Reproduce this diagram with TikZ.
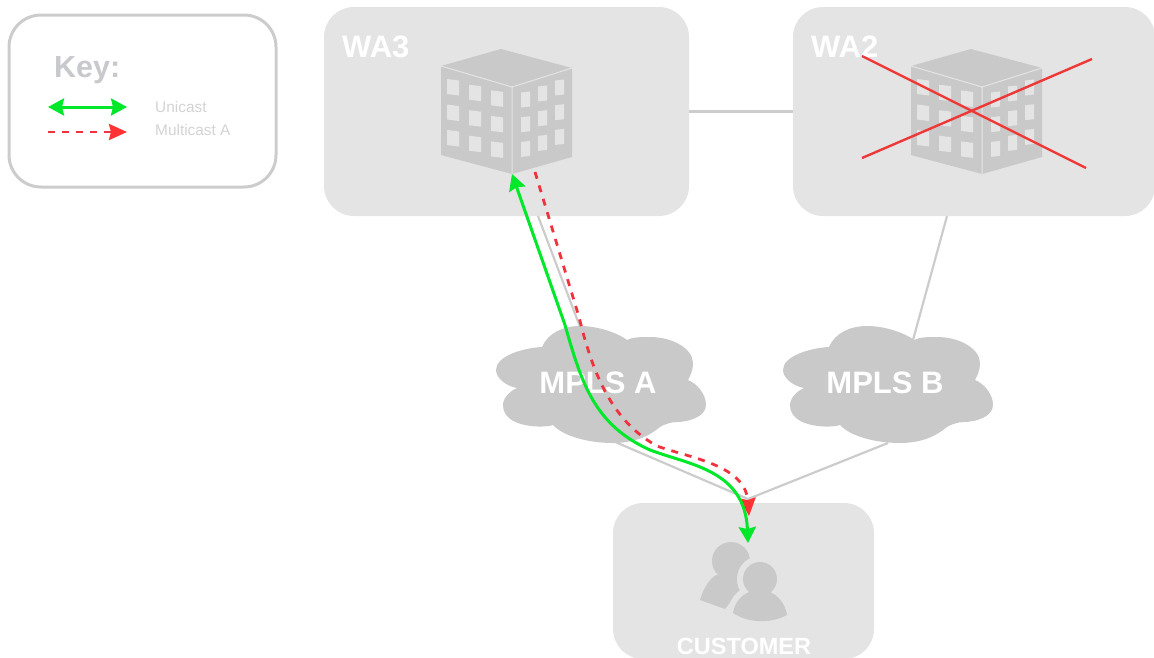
\documentclass[tikz,border=0pt]{standalone}
\usepackage{fontspec}
\setmainfont{Liberation Sans}
\usetikzlibrary{arrows.meta}
\definecolor{boxgrey}{HTML}{E4E4E4}
\definecolor{shapegrey}{HTML}{C9C9C9}
\definecolor{linkgrey}{HTML}{CCCCCC}
\definecolor{keygrey}{HTML}{C8C9CC}
\definecolor{keytext}{HTML}{D3D3D3}
\definecolor{unigreen}{HTML}{00E82A}
\definecolor{multired}{HTML}{F0323F}
\definecolor{headred}{HTML}{FF3333}
\definecolor{crossred}{HTML}{EE3838}
\tikzset{
  site/.style={fill=boxgrey,rounded corners=30pt,inner sep=0pt},
  link/.style={draw=linkgrey,line width=2.2pt},
  sitename/.style={text=white,font=\bfseries\fontsize{31}{31}\selectfont,inner sep=0pt},
  unicast/.style={draw=unigreen,line width=3pt,{Stealth[length=16pt,width=17pt,inset=2pt]}-{Stealth[length=16pt,width=17pt,inset=2pt]}},
  multicast/.style={draw=multired,line width=2.8pt,dash pattern=on 7pt off 7pt,-{Stealth[length=18pt,width=16pt,inset=2pt,color=headred]}},
  pics/building/.style={code={
    \fill[shapegrey] (-11,-38) -- (60,-19) -- (60,70) -- (0,87) -- (-71,68) -- (-71,-21) -- cycle;
    \draw[boxgrey,line width=1pt] (-71,-21) -- (0,0) -- (60,-19) (0,0) -- (0,87);
    \foreach \c in {0,1,2}
      \foreach \r in {0,1,2} {
        \fill[boxgrey] ({-65+22*\c},{-8+25.5*\r+5.7*\c}) -- ++(12,1.5) -- ++(0,15) -- ++(-12,-1.5) -- cycle;
        \fill[boxgrey] ({9+17*\c},{5.5-6*\c+24.7*\r}) -- ++(9,-1) -- ++(0,15) -- ++(-9,1) -- cycle;
      }
  }},
  pics/mplscloud/.style={code={
    \fill[shapegrey] (-102,-11) .. controls (-102,-25) and (-75,-33) .. (-56,-34)
      .. controls (-50,-48) and (-35,-55) .. (-18,-55)
      .. controls (0,-55) and (20,-48) .. (29,-41)
      .. controls (35,-44) and (43,-44) .. (52,-44)
      .. controls (75,-44) and (95,-32) .. (95,-18)
      .. controls (95,-10) and (92,-5) .. (90,-1)
      .. controls (100,3) and (108,14) .. (108,24)
      .. controls (108,36) and (90,41) .. (79,41)
      .. controls (72,41) and (65,44) .. (62,46)
      .. controls (50,56) and (35,62) .. (15,62)
      .. controls (-10,62) and (-35,55) .. (-45,44)
      .. controls (-52,47) and (-95,48) .. (-95,24)
      .. controls (-95,17) and (-88,10) .. (-81,7)
      .. controls (-92,5) and (-102,-3) .. (-102,-11) -- cycle;
  }}
}
\begin{document}
\begin{tikzpicture}[x=1pt,y=-1pt]
  \useasboundingbox (0,0) rectangle (1154,657);
  \node[site,minimum width=365pt,minimum height=209pt] (wa3) at (506.5,111.5) {};
  \node[site,minimum width=362pt,minimum height=209pt] (wa2) at (974,111.5) {};
  \node[site,minimum width=261pt,minimum height=156pt] (customer) at (743.5,581) {};
  \node[draw=linkgrey,line width=3pt,rounded corners=32pt,minimum width=267pt,minimum height=172pt] (key) at (142.5,101) {};
  \coordinate (wa3port) at (538,216);
  \coordinate (wa2port) at (947,216);
  \coordinate (atop) at (585,340);
  \coordinate (btop) at (913,340);
  \coordinate (afoot) at (613,441);
  \coordinate (bfoot) at (888,443);
  \coordinate (apex) at (748,499);
  \begin{scope}[link]
    \draw (wa3) -- (wa2);
    \draw (wa3port) -- (atop);
    \draw (wa2port) -- (btop);
    \draw (afoot) -- (apex);
    \draw (bfoot) -- (apex);
  \end{scope}
  \pic at (512,87) {building};
  \pic at (982,87) {building};
  \pic at (598,381) {mplscloud};
  \pic at (885,381) {mplscloud};
  \node[sitename,anchor=base west] (wa3name) at (342,57) {WA3};
  \node[sitename,anchor=base west] (wa2name) at (811,57) {WA2};
  \node[sitename,anchor=base] (mplsa) at (598,393) {MPLS A};
  \node[sitename,anchor=base] (mplsb) at (885,393) {MPLS B};
  \node[sitename,anchor=base,font=\bfseries\fontsize{23.5}{23.5}\selectfont] (custname) at (744,654) {CUSTOMER};
  \fill[shapegrey] (731,561) circle (19);
  \fill[shapegrey] (700,600) .. controls (703,590) and (708,580) .. (716,575) -- (748,580) -- (725,609) -- cycle;
  \filldraw[shapegrey,draw=boxgrey,line width=12pt] (760,579) circle (17);
  \filldraw[shapegrey,draw=boxgrey,line width=12pt] (733,613) .. controls (735,600) and (745,590) .. (760,590) .. controls (775,590) and (785,602) .. (787,615) .. controls (770,624) and (748,623) .. (733,613) -- cycle;
  \fill[shapegrey] (760,579) circle (17);
  \fill[shapegrey] (733,613) .. controls (735,600) and (745,590) .. (760,590) .. controls (775,590) and (785,602) .. (787,615) .. controls (770,624) and (748,623) .. (733,613) -- cycle;
  \draw[crossred,line width=2.4pt] (862,56) -- (1086,168);
  \draw[crossred,line width=2.4pt] (862,158) -- (1092,59);
  \coordinate (wa3door) at (512,174);
  \coordinate (wa3drop) at (535,172);
  \coordinate (custin) at (748,543);
  \coordinate (custdrop) at (749,516);
  \draw[multicast] (wa3drop) -- (579,317) .. controls (592,370) and (610,420) .. (657,446) .. controls (690,458) and (745,465) .. (custdrop);
  \draw[unicast] (wa3door) -- (565,325) .. controls (582,385) and (595,425) .. (650,450) .. controls (690,465) and (745,470) .. (custin);
  \node[anchor=base west,inner sep=0pt,text=keygrey,font=\bfseries\fontsize{30.5}{30.5}\selectfont] (keyname) at (54,77) {Key:};
  \node[anchor=base west,inner sep=0pt,text=keytext,font=\fontsize{15.4}{15.4}\selectfont] (uniname) at (155,112) {Unicast};
  \node[anchor=base west,inner sep=0pt,text=keytext,font=\fontsize{15.4}{15.4}\selectfont] (multiname) at (155,135) {Multicast A};
  \coordinate (unileft) at (48,107);
  \coordinate (uniright) at (127,107);
  \coordinate (multileft) at (48,132);
  \coordinate (multiright) at (127,132);
  \draw[unicast] (unileft) -- (uniright);
  \draw[multicast] (multileft) -- (multiright);
\end{tikzpicture}
\end{document}
